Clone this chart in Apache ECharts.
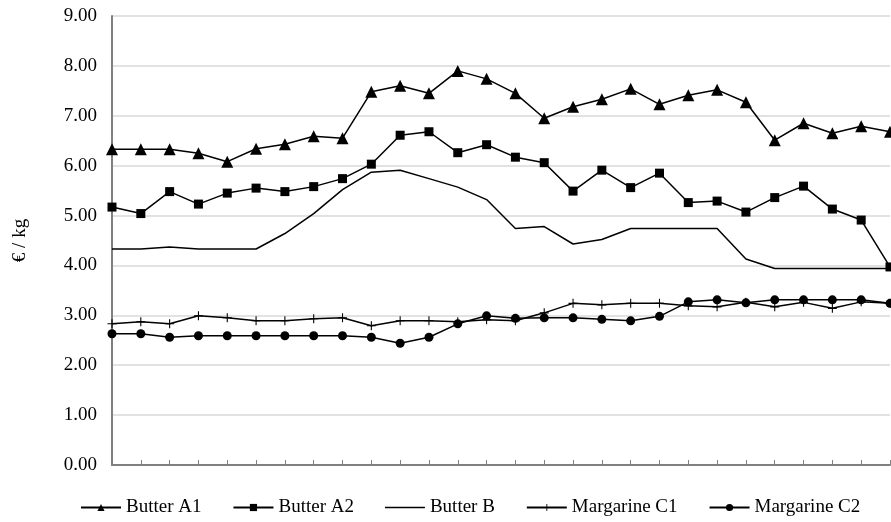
<!DOCTYPE html>
<html>
<head>
<meta charset="utf-8">
<script src="https://cdn.jsdelivr.net/npm/echarts@6/dist/echarts.min.js"></script>
<style>
html,body{margin:0;padding:0;background:#fff;}
#chart{width:891px;height:522px;}
</style>
</head>
<body>
<div id="chart"></div>
<script>
const categories = ['1','2','3','4','5','6','7','8','9','10','11','12','13','14','15','16','17','18','19','20','21','22','23','24','25','26','27','28'];
const yTicks = [0,1,2,3,4,5,6,7,8,9];
const butterA1 = [6.33,6.33,6.33,6.25,6.08,6.34,6.43,6.59,6.55,7.48,7.60,7.45,7.90,7.74,7.45,6.95,7.18,7.33,7.54,7.23,7.41,7.52,7.27,6.51,6.85,6.65,6.79,6.68];
const butterA2 = [5.17,5.04,5.48,5.23,5.45,5.55,5.48,5.58,5.74,6.03,6.61,6.68,6.26,6.42,6.17,6.06,5.49,5.91,5.56,5.85,5.26,5.29,5.07,5.36,5.59,5.13,4.91,3.97];
const butterB = [4.33,4.33,4.37,4.33,4.33,4.33,4.64,5.04,5.52,5.87,5.91,5.74,5.57,5.32,4.74,4.78,4.43,4.52,4.74,4.74,4.74,4.74,4.13,3.94,3.94,3.94,3.94,3.94];
const margarineC1 = [2.83,2.87,2.83,2.99,2.95,2.89,2.89,2.93,2.95,2.79,2.89,2.89,2.87,2.91,2.89,3.05,3.24,3.21,3.24,3.24,3.19,3.17,3.26,3.17,3.26,3.14,3.27,3.24];
const margarineC2 = [2.63,2.63,2.56,2.59,2.59,2.59,2.59,2.59,2.59,2.56,2.44,2.56,2.83,2.99,2.94,2.95,2.95,2.92,2.89,2.98,3.27,3.31,3.25,3.31,3.31,3.31,3.31,3.24];

const FONT = '"Liberation Serif", "Times New Roman", serif';
const plus = 'path://M-0.12,-1 L0.12,-1 L0.12,-0.12 L1,-0.12 L1,0.12 L0.12,0.12 L0.12,1 L-0.12,1 L-0.12,0.12 L-1,0.12 L-1,-0.12 L-0.12,-0.12 Z';

function mk(name, data, symbol, size) {
  return {
    name, type: 'line', data,
    symbol: symbol || 'none',
    symbolSize: size || 0,
    showSymbol: !!symbol,
    lineStyle: {color: '#000', width: 1.5},
    itemStyle: {color: '#000', borderWidth: 0},
    emphasis: {disabled: true},
    animation: false
  };
}

const chart = echarts.init(document.getElementById('chart'), null, {renderer: 'canvas'});
chart.setOption({
  backgroundColor: '#fff',
  animation: false,
  grid: {left: 112, right: 1, top: 16, bottom: 57, containLabel: false},
  legend: {
    left: 75, top: 493,
    itemWidth: 40, itemHeight: 9, itemGap: 31,
    textStyle: {fontFamily: FONT, fontSize: 19, color: '#000'},
    data: [
      {name: 'Butter A1'},
      {name: 'Butter A2'},
      {name: 'Butter B', icon: 'path://M0,0 L40,0 L40,1.5 L0,1.5 Z', itemStyle: {color: '#000'}},
      {name: 'Margarine C1'},
      {name: 'Margarine C2'}
    ]
  },
  xAxis: {
    type: 'category', data: categories, boundaryGap: false,
    axisLine: {lineStyle: {color: '#808080', width: 2}},
    axisTick: {inside: true, length: 5, lineStyle: {color: '#808080', width: 1}},
    axisLabel: {show: false},
    splitLine: {show: false}
  },
  yAxis: {
    type: 'value', min: yTicks[0], max: yTicks[yTicks.length-1], interval: 1,
    name: '€ / kg', nameLocation: 'middle', nameGap: 82, nameRotate: 90,
    nameTextStyle: {fontFamily: FONT, fontSize: 19, color: '#000'},
    axisLine: {show: true, lineStyle: {color: '#808080', width: 2}},
    axisTick: {show: false},
    axisLabel: {fontFamily: FONT, fontSize: 19, color: '#000', margin: 15, formatter: v => v.toFixed(2)},
    splitLine: {lineStyle: {color: '#d9d9d9', width: 1.5}}
  },
  series: [
    mk('Butter A1', butterA1, 'triangle', 12),
    mk('Butter A2', butterA2, 'rect', 9),
    mk('Butter B', butterB, null, 0),
    mk('Margarine C1', margarineC1, plus, 9),
    mk('Margarine C2', margarineC2, 'circle', 9)
  ]
});
</script>
</body>
</html>
